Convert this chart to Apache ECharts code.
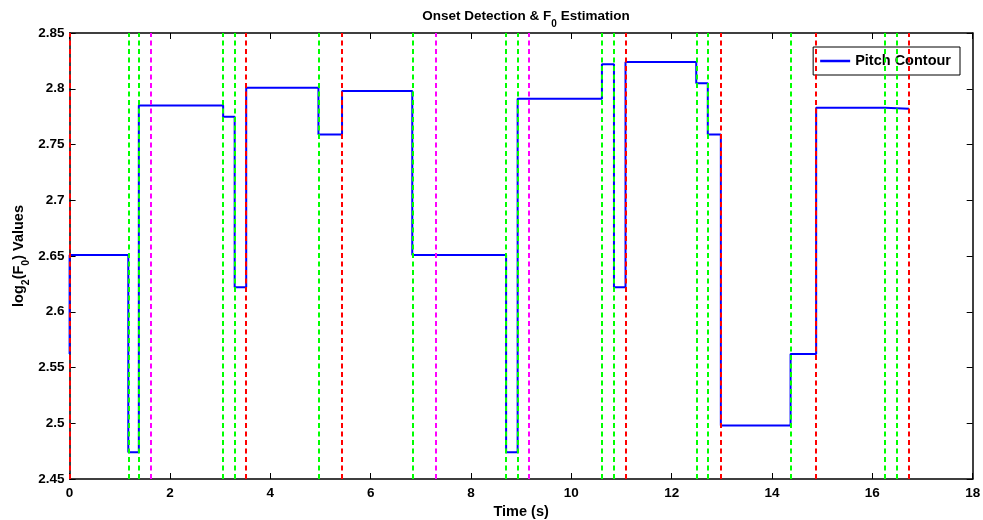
<!DOCTYPE html>
<html>
<head>
<meta charset="utf-8">
<script src="https://cdn.jsdelivr.net/npm/echarts@6/dist/echarts.min.js"></script>
<style>
  html, body { margin: 0; padding: 0; background: #fff; }
  #chart { width: 983px; height: 520px; }
</style>
</head>
<body>
<div id="chart"></div>
<script>
// pitch contour: value of each step starts at the matching time
const stepTimes = [0, 0, 1.17, 1.38, 3.06, 3.29, 3.52, 4.96, 5.43, 6.83, 8.70, 8.93, 10.61, 10.85, 11.08, 12.49, 12.72, 12.98, 14.37, 14.88, 16.25, 16.73]
const stepValues = [2.562, 2.651, 2.474, 2.785, 2.775, 2.622, 2.801, 2.759, 2.798, 2.651, 2.474, 2.791, 2.822, 2.622, 2.824, 2.805, 2.759, 2.498, 2.562, 2.783, 2.782, 2.782]

// onset markers
const greenOnsets = [1.17, 1.38, 3.06, 3.29, 4.96, 6.83, 8.70, 8.93, 10.61, 10.85, 12.49, 12.72, 14.37, 16.25, 16.49]
const magentaOnsets = [1.61, 7.30, 9.15]
const redOnsets = [0, 3.52, 5.43, 11.08, 12.98, 14.88, 16.73]

const xTicks = { min: 0, max: 18, interval: 2 }
const yTicks = { min: 2.45, max: 2.85, interval: 0.05 }

const font = 'Liberation Sans, Arial, sans-serif'
const chart = echarts.init(document.getElementById('chart'))

function onsetSeries(name, times, color) {
  return {
    name,
    type: 'line',
    data: [],
    z: 5,
    silent: true,
    markLine: {
      silent: true,
      symbol: 'none',
      animation: false,
      label: { show: false },
      lineStyle: { color, width: 2, type: [5, 3.5] },
      emphasis: { disabled: true },
      data: times.map(t => ({ xAxis: t })),
    },
  }
}

const axisCommon = {
  axisLine: { show: true, onZero: false, lineStyle: { color: '#000', width: 1.5 } },
  axisTick: { show: true, inside: true, length: 6, lineStyle: { color: '#000', width: 1 } },
  splitLine: { show: false },
}

const subStyle = size => ({ fontFamily: font, fontWeight: 'bold', fontSize: size, color: '#000', verticalAlign: 'bottom', lineHeight: 26 })

chart.setOption({
  animation: false,
  backgroundColor: '#fff',
  title: {
    text: 'Onset Detection & F{sub|0} Estimation',
    left: 521,
    textAlign: 'center',
    top: -2,
    textStyle: {
      fontFamily: font,
      fontWeight: 'bold',
      fontSize: 13.5,
      color: '#000',
      lineHeight: 18,
      rich: { sub: subStyle(10) },
    },
  },
  legend: {
    data: [{ name: 'Pitch Contour', icon: 'rect' }],
    right: 23,
    top: 47,
    padding: [6, 9, 6, 7],
    itemWidth: 30,
    itemHeight: 2.5,
    borderColor: '#000',
    borderWidth: 1,
    backgroundColor: '#fff',
    textStyle: { fontFamily: font, fontWeight: 'bold', fontSize: 14.5, color: '#000', lineHeight: 16 },
  },
  grid: { left: 69.6, right: 10.3, top: 33, bottom: 41, outerBoundsMode: 'none' },
  xAxis: [
    {
      type: 'value',
      ...xTicks,
      ...axisCommon,
      name: 'Time (s)',
      nameLocation: 'middle',
      nameGap: 20,
      nameTextStyle: { fontFamily: font, fontWeight: 'bold', fontSize: 14.5, color: '#000' },
      axisLabel: { fontFamily: font, fontWeight: 'bold', fontSize: 13.5, color: '#000', margin: 7 },
    },
    {
      type: 'value',
      position: 'top',
      ...xTicks,
      ...axisCommon,
      axisLabel: { show: false },
    },
  ],
  yAxis: [
    {
      type: 'value',
      ...yTicks,
      ...axisCommon,
      name: 'log{s|2}(F{s|0}) Values',
      nameLocation: 'middle',
      nameGap: 38,
      nameRotate: 90,
      nameMoveOverlap: false,
      nameTextStyle: {
        fontFamily: font, fontWeight: 'bold', fontSize: 14.5, color: '#000', lineHeight: 18,
        rich: { s: subStyle(10.5) },
      },
      axisLabel: {
        fontFamily: font, fontWeight: 'bold', fontSize: 13.5, color: '#000', margin: 5,
        formatter: v => String(Math.round(v * 100) / 100),
      },
    },
    {
      type: 'value',
      position: 'right',
      ...yTicks,
      ...axisCommon,
      axisLabel: { show: false },
    },
  ],
  series: [
    {
      name: 'Pitch Contour',
      type: 'line',
      step: 'end',
      symbol: 'none',
      z: 3,
      lineStyle: { color: '#0000ff', width: 2 },
      itemStyle: { color: '#0000ff' },
      data: stepTimes.map((t, i) => [t, stepValues[i]]),
    },
    onsetSeries('green', greenOnsets, '#00ff00'),
    onsetSeries('magenta', magentaOnsets, '#ff00ff'),
    onsetSeries('red', redOnsets, '#ff0000'),
  ],
})
</script>
</body>
</html>
